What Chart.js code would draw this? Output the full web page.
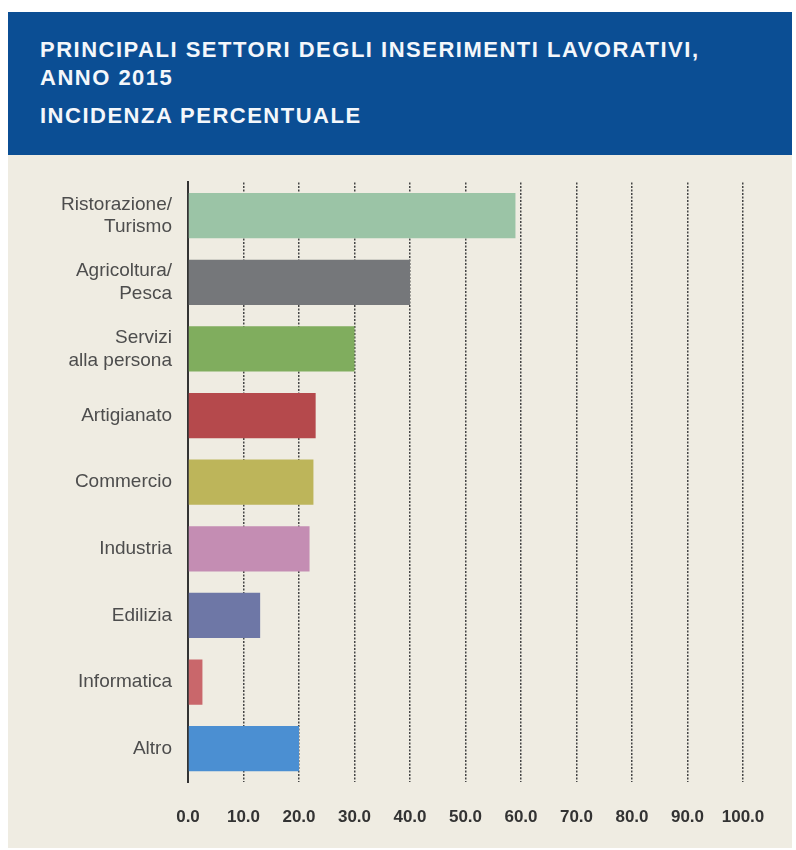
<!DOCTYPE html>
<html>
<head>
<meta charset="utf-8">
<script src="https://cdn.jsdelivr.net/npm/chart.js@4/dist/chart.umd.min.js"></script>
<style>
  body { margin: 0; background: #ffffff; width: 796px; height: 850px; position: relative; overflow: hidden; }
  #panel { position: absolute; left: 8px; top: 12px; width: 784px; height: 836px; background: #efece2; }
  #header { position: absolute; left: 8px; top: 12px; width: 784px; height: 143px; background: #0b4e94; }
  .t { position: absolute; left: 40px; color: #f4f7fb; font: bold 22px "Liberation Sans", Arial, sans-serif; letter-spacing: 1.5px; white-space: nowrap; }
  #wrap { position: absolute; left: 8px; top: 155px; width: 784px; height: 693px; }
</style>
</head>
<body>
<div id="panel"></div>
<div id="header"></div>
<div class="t" style="top:37px">PRINCIPALI SETTORI DEGLI INSERIMENTI LAVORATIVI,</div>
<div class="t" style="top:65px">ANNO 2015</div>
<div class="t" style="top:103px">INCIDENZA PERCENTUALE</div>
<div id="wrap"><canvas id="chart"></canvas></div>
<script>
// settori
const sectors = [
    ["Ristorazione/", "Turismo"],
    ["Agricoltura/", "Pesca"],
    ["Servizi", "alla persona"],
    "Artigianato",
    "Commercio",
    "Industria",
    "Edilizia",
    "Informatica",
    "Altro"
];
// incidenza percentuale
const shares = [59.0, 40.0, 30.0, 23.0, 22.6, 21.9, 13.0, 2.6, 20.0];
const barColors = ["#9bc4a6", "#75777a", "#80ad5e", "#b5494c", "#bdb55a", "#c48db3", "#6e77a6", "#c9676b", "#4b8fd2"];
const xTicks = [0, 10, 20, 30, 40, 50, 60, 70, 80, 90, 100];

const ctx = document.getElementById("chart").getContext("2d");
new Chart(ctx, {
    type: "bar",
    data: {
        labels: sectors,
        datasets: [{
            data: shares,
            backgroundColor: barColors,
            borderWidth: 0,
            barPercentage: 0.68,
            categoryPercentage: 1
        }]
    },
    options: {
        indexAxis: "y",
        responsive: true,
        maintainAspectRatio: false,
        animation: false,
        layout: { padding: { top: 21, right: 49, bottom: 26, left: 0 } },
        plugins: { legend: { display: false }, tooltip: { enabled: false } },
        scales: {
            x: {
                min: 0,
                max: 100,
                afterBuildTicks: (scale) => { scale.ticks = xTicks.map(v => ({ value: v })); },
                afterFit: (scale) => { scale.height = 40; },
                grid: { color: "#454545", lineWidth: 1.5, drawTicks: false },
                border: { display: false, dash: [2, 1.5] },
                ticks: {
                    padding: 25,
                    autoSkip: false,
                    maxRotation: 0,
                    minRotation: 0,
                    color: "#333333",
                    font: { family: "'Liberation Sans', Arial, sans-serif", size: 17, weight: "bold" },
                    callback: (v) => v.toFixed(1).split(".").join(",")
                }
            },
            y: {
                afterFit: (scale) => { scale.width = 180; },
                grid: { display: false, drawTicks: false },
                border: { display: true, color: "#333333", width: 2 },
                ticks: {
                    padding: 16,
                    color: "#4d4d4d",
                    font: { family: "'Liberation Sans', Arial, sans-serif", size: 19, lineHeight: 1.2 }
                }
            }
        }
    }
});
</script>
</body>
</html>
